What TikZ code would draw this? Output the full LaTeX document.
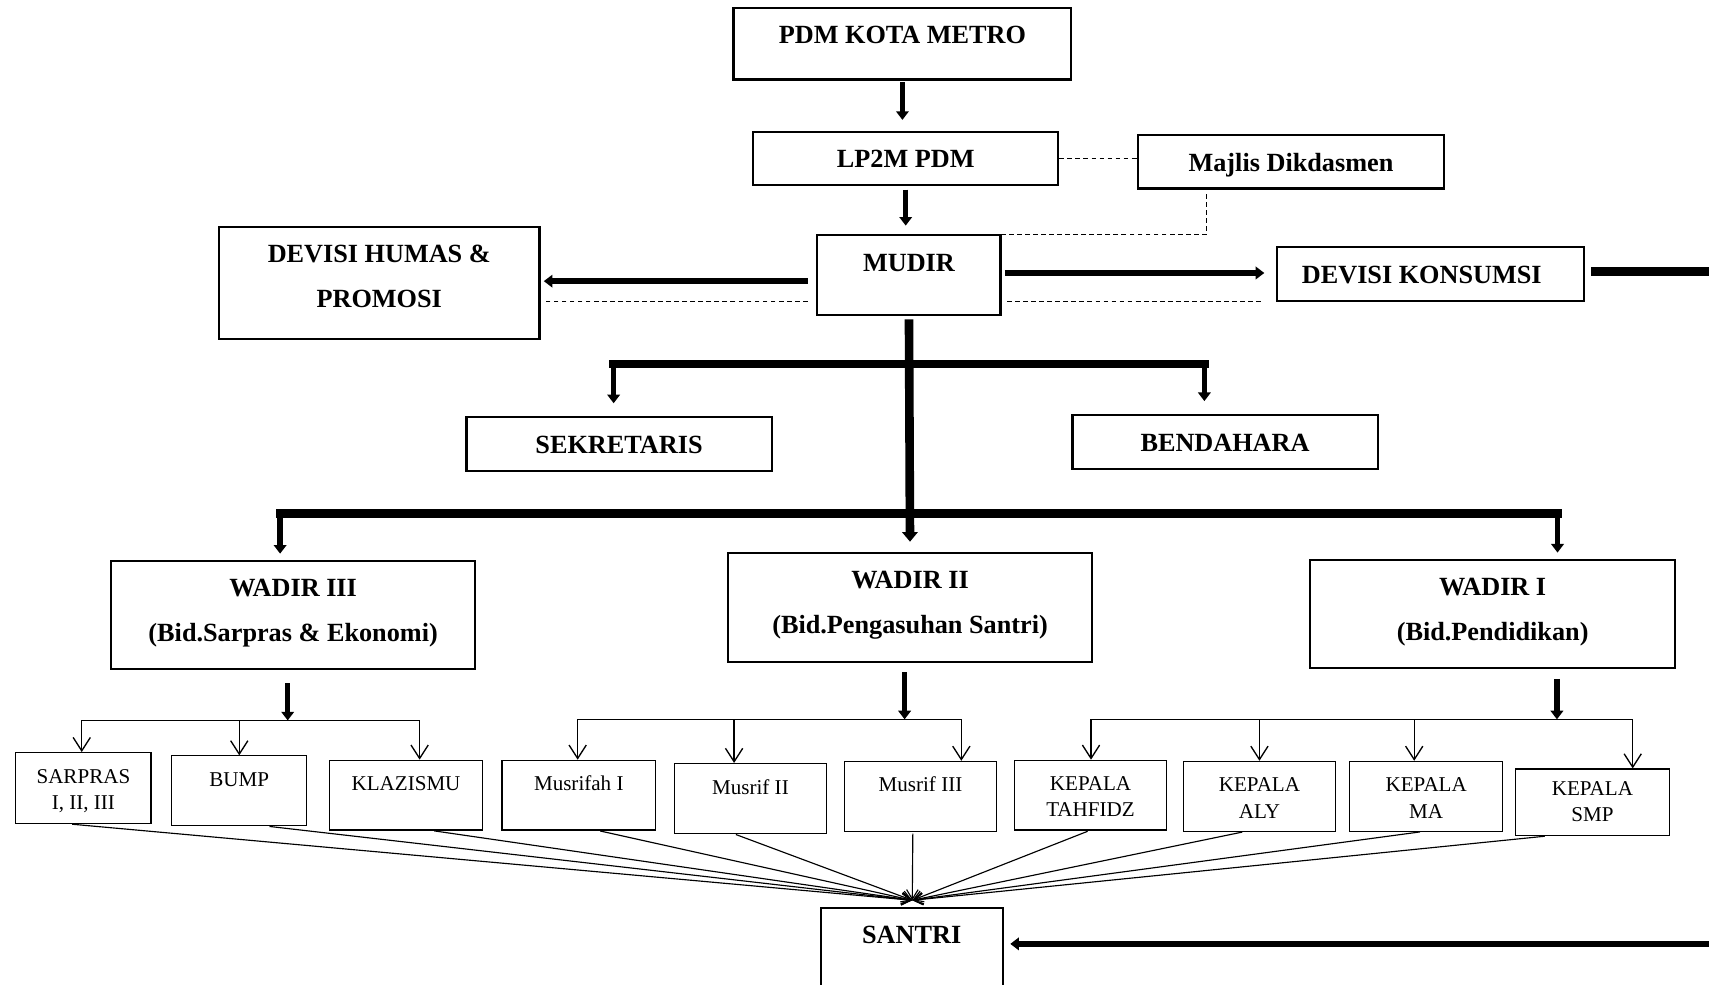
\documentclass[tikz,border=0pt]{standalone}
\usepackage{fontspec}
\setmainfont{Liberation Serif}
\usetikzlibrary{arrows.meta}
\newlength\pxu
\setlength\pxu{0.02cm}
\begin{document}
\begin{tikzpicture}[x=0.02cm, y=-0.02cm,
    big/.style={draw, line width=1.1pt, anchor=north west, inner sep=0pt, align=center,
        text height=33\pxu, font=\fontsize{13.7}{23.5}\selectfont\bfseries},
    small/.style={draw, line width=0.6pt, anchor=north west, inner sep=0pt, align=center,
        minimum width=140\pxu, text height=28\pxu, text depth=36\pxu, font=\fontsize{11}{13.6}\selectfont},
    arr/.style={line width=2.8pt, -{Triangle[length=4.5pt,width=6.5pt]}},
    stem/.style={line width=4.5pt, -{Triangle[length=5pt,width=8pt]}},
    bar/.style={line width=4.5pt, line cap=rect},
    fat/.style={line width=5pt},
    dsh/.style={line width=0.6pt, dash pattern=on 2.5pt off 1.7pt},
    tbar/.style={line width=0.7pt},
    tarr/.style={line width=0.7pt, -{Straight Barb[length=7pt,width=9pt]}},
    fan/.style={line width=0.6pt, shorten <=1pt, -{Straight Barb[length=5pt,width=6pt]}}]
\useasboundingbox (0,0) rectangle (1568,903);
\clip (0,0) rectangle (1568,903);
\node[big, minimum width=310\pxu, text depth=33\pxu] (pdm) at (672,6) {PDM KOTA METRO};
\node[big, minimum width=280\pxu, text depth=16\pxu] (lp2m) at (690,120) {LP2M PDM};
\node[big, minimum width=281\pxu, text depth=16\pxu] (majlis) at (1043,123) {Majlis Dikdasmen};
\node[big, minimum width=168\pxu, text depth=40\pxu] (mudir) at (749,215) {MUDIR};
\node[big, minimum width=294\pxu, text height=74\pxu, text depth=29\pxu] (humas) at (200,207) {DEVISI HUMAS \&\\PROMOSI};
\node[big, minimum width=281\pxu, text depth=16\pxu] (konsumsi) at (1171,226) {DEVISI KONSUMSI\hspace{16\pxu}};
\node[big, minimum width=280\pxu, text depth=16\pxu] (sek) at (427,382) {SEKRETARIS};
\node[big, minimum width=280\pxu, text depth=16\pxu] (ben) at (983,380) {BENDAHARA};
\node[big, minimum width=334\pxu, text height=74\pxu, text depth=25\pxu] (w3) at (101,514) {WADIR III\\(Bid.Sarpras \& Ekonomi)};
\node[big, minimum width=334\pxu, text height=74\pxu, text depth=26\pxu] (w2) at (667,506) {WADIR II\\(Bid.Pengasuhan Santri)};
\node[big, minimum width=335\pxu, text height=74\pxu, text depth=25\pxu] (w1) at (1201,513) {WADIR I\\(Bid.Pendidikan)};
\node[big, minimum width=167\pxu, text depth=100\pxu] (santri) at (752,832) {SANTRI};
\node[small, minimum width=124\pxu, text height=52\pxu, text depth=13\pxu] (sarpras) at (14,690) {SARPRAS\\I, II, III};
\node[small, minimum width=124\pxu] (bump) at (157,693) {BUMP};
\node[small] (klaz) at (302,697) {KLAZISMU};
\node[small, minimum width=141\pxu] (mus1) at (460,697) {Musrifah I};
\node[small] (mus2) at (618,700) {Musrif II};
\node[small] (mus3) at (774,698) {Musrif III};
\node[small, text height=52\pxu, text depth=12\pxu] (tahfidz) at (930,697) {KEPALA\\TAHFIDZ};
\node[small, text height=52\pxu, text depth=12\pxu] (aly) at (1085,698) {KEPALA\\ALY};
\node[small, text height=52\pxu, text depth=12\pxu] (ma) at (1238,698) {KEPALA\\MA};
\node[small, minimum width=141\pxu, text height=48\pxu, text depth=13\pxu] (smp) at (1390,705) {KEPALA\\SMP};
\draw[arr, shorten <=1pt, shorten >=10\pxu] (pdm.south) -- (pdm.south |- lp2m.north);
\draw[arr, shorten <=3\pxu, shorten >=8\pxu] (lp2m.south) -- (lp2m.south |- mudir.north);
\draw[dsh] (lp2m.east) -- (lp2m.east -| majlis.west);
\coordinate (mj) at (1107,178);
\draw[dsh] (mj) |- (mudir.north east);
\draw[arr, shorten <=8\pxu, shorten >=3\pxu] ([yshift=-5.5\pxu]mudir.west) -- ([yshift=-5.5\pxu]mudir.west -| humas.east);
\draw[dsh, shorten <=8\pxu, shorten >=5\pxu] ([yshift=-24\pxu]mudir.west) -- ([yshift=-24\pxu]mudir.west -| humas.east);
\draw[arr, shorten <=3\pxu, shorten >=11\pxu] ([yshift=2\pxu]mudir.east) -- ([yshift=2\pxu]mudir.east -| konsumsi.west);
\draw[dsh, shorten <=5\pxu, shorten >=11\pxu] ([yshift=-24\pxu]mudir.east) -- ([yshift=-24\pxu]mudir.east -| konsumsi.west);
\coordinate (edgek) at (1580,249);
\draw[fat, shorten <=6\pxu] (konsumsi.east |- edgek) -- (edgek);
\coordinate (edges) at (1580,866);
\draw[arr, line width=3.4pt, shorten >=6\pxu] (edges) -- (edges -| santri.east);
\draw[stem, shorten <=3\pxu, shorten >=9\pxu] (mudir.south) -- (w2.north);
\coordinate (b1l) at (563,334);
\coordinate (b1r) at (1105,334);
\draw[bar] (b1l) -- (b1r);
\draw[arr, shorten >=12\pxu] (b1l) -- (b1l |- sek.north);
\draw[arr, shorten >=12\pxu] (b1r) -- (b1r |- ben.north);
\coordinate (b2l) at (257,471);
\coordinate (b2r) at (1429,471);
\draw[bar] (b2l) -- (b2r);
\draw[arr, shorten >=6\pxu] (b2l) -- (b2l |- w3.north);
\draw[arr, shorten >=6\pxu] (b2r) -- (b2r |- w1.north);
\coordinate (t3l) at (75,661);
\coordinate (t3r) at (385,661);
\draw[arr, shorten <=12\pxu] ([xshift=-5\pxu]w3.south) -- ([xshift=-5\pxu]w3.south |- t3l);
\draw[tbar] (t3l) -- (t3r);
\draw[tarr] (t3l) -- (t3l |- sarpras.north);
\draw[tarr] (bump.north |- t3l) -- (bump.north);
\draw[tarr] (t3r) -- (t3r |- klaz.north);
\coordinate (t2l) at (530,660);
\coordinate (t2r) at (882,660);
\draw[arr, shorten <=9\pxu] ([xshift=-5\pxu]w2.south) -- ([xshift=-5\pxu]w2.south |- t2l);
\draw[tbar] (t2l) -- (t2r);
\draw[tarr] (t2l) -- (t2l |- mus1.north);
\draw[tarr] ([xshift=-15\pxu]mus2.north |- t2l) -- ([xshift=-15\pxu]mus2.north);
\draw[tarr] (t2r) -- (t2r |- mus3.north);
\coordinate (t1l) at (1001,660);
\coordinate (t1r) at (1498,660);
\draw[arr, shorten <=9\pxu] ([xshift=59\pxu]w1.south) -- ([xshift=59\pxu]w1.south |- t1l);
\draw[tbar] (t1l) -- (t1r);
\draw[tarr] (t1l) -- (t1l |- tahfidz.north);
\draw[tarr] (aly.north |- t1l) -- (aly.north);
\draw[tarr] ([xshift=-11\pxu]ma.north |- t1l) -- ([xshift=-11\pxu]ma.north);
\draw[tarr] (t1r) -- (t1r |- smp.north);
\coordinate (hub) at (837,826);
\foreach \n/\s in {sarpras/-12,bump/26,klaz/24,mus1/18,mus2/-15,mus3/-7,tahfidz/-1,aly/-14,ma/-4,smp/-42}
    \draw[fan] ([xshift=\s\pxu]\n.south) -- (hub);
\end{tikzpicture}
\end{document}
